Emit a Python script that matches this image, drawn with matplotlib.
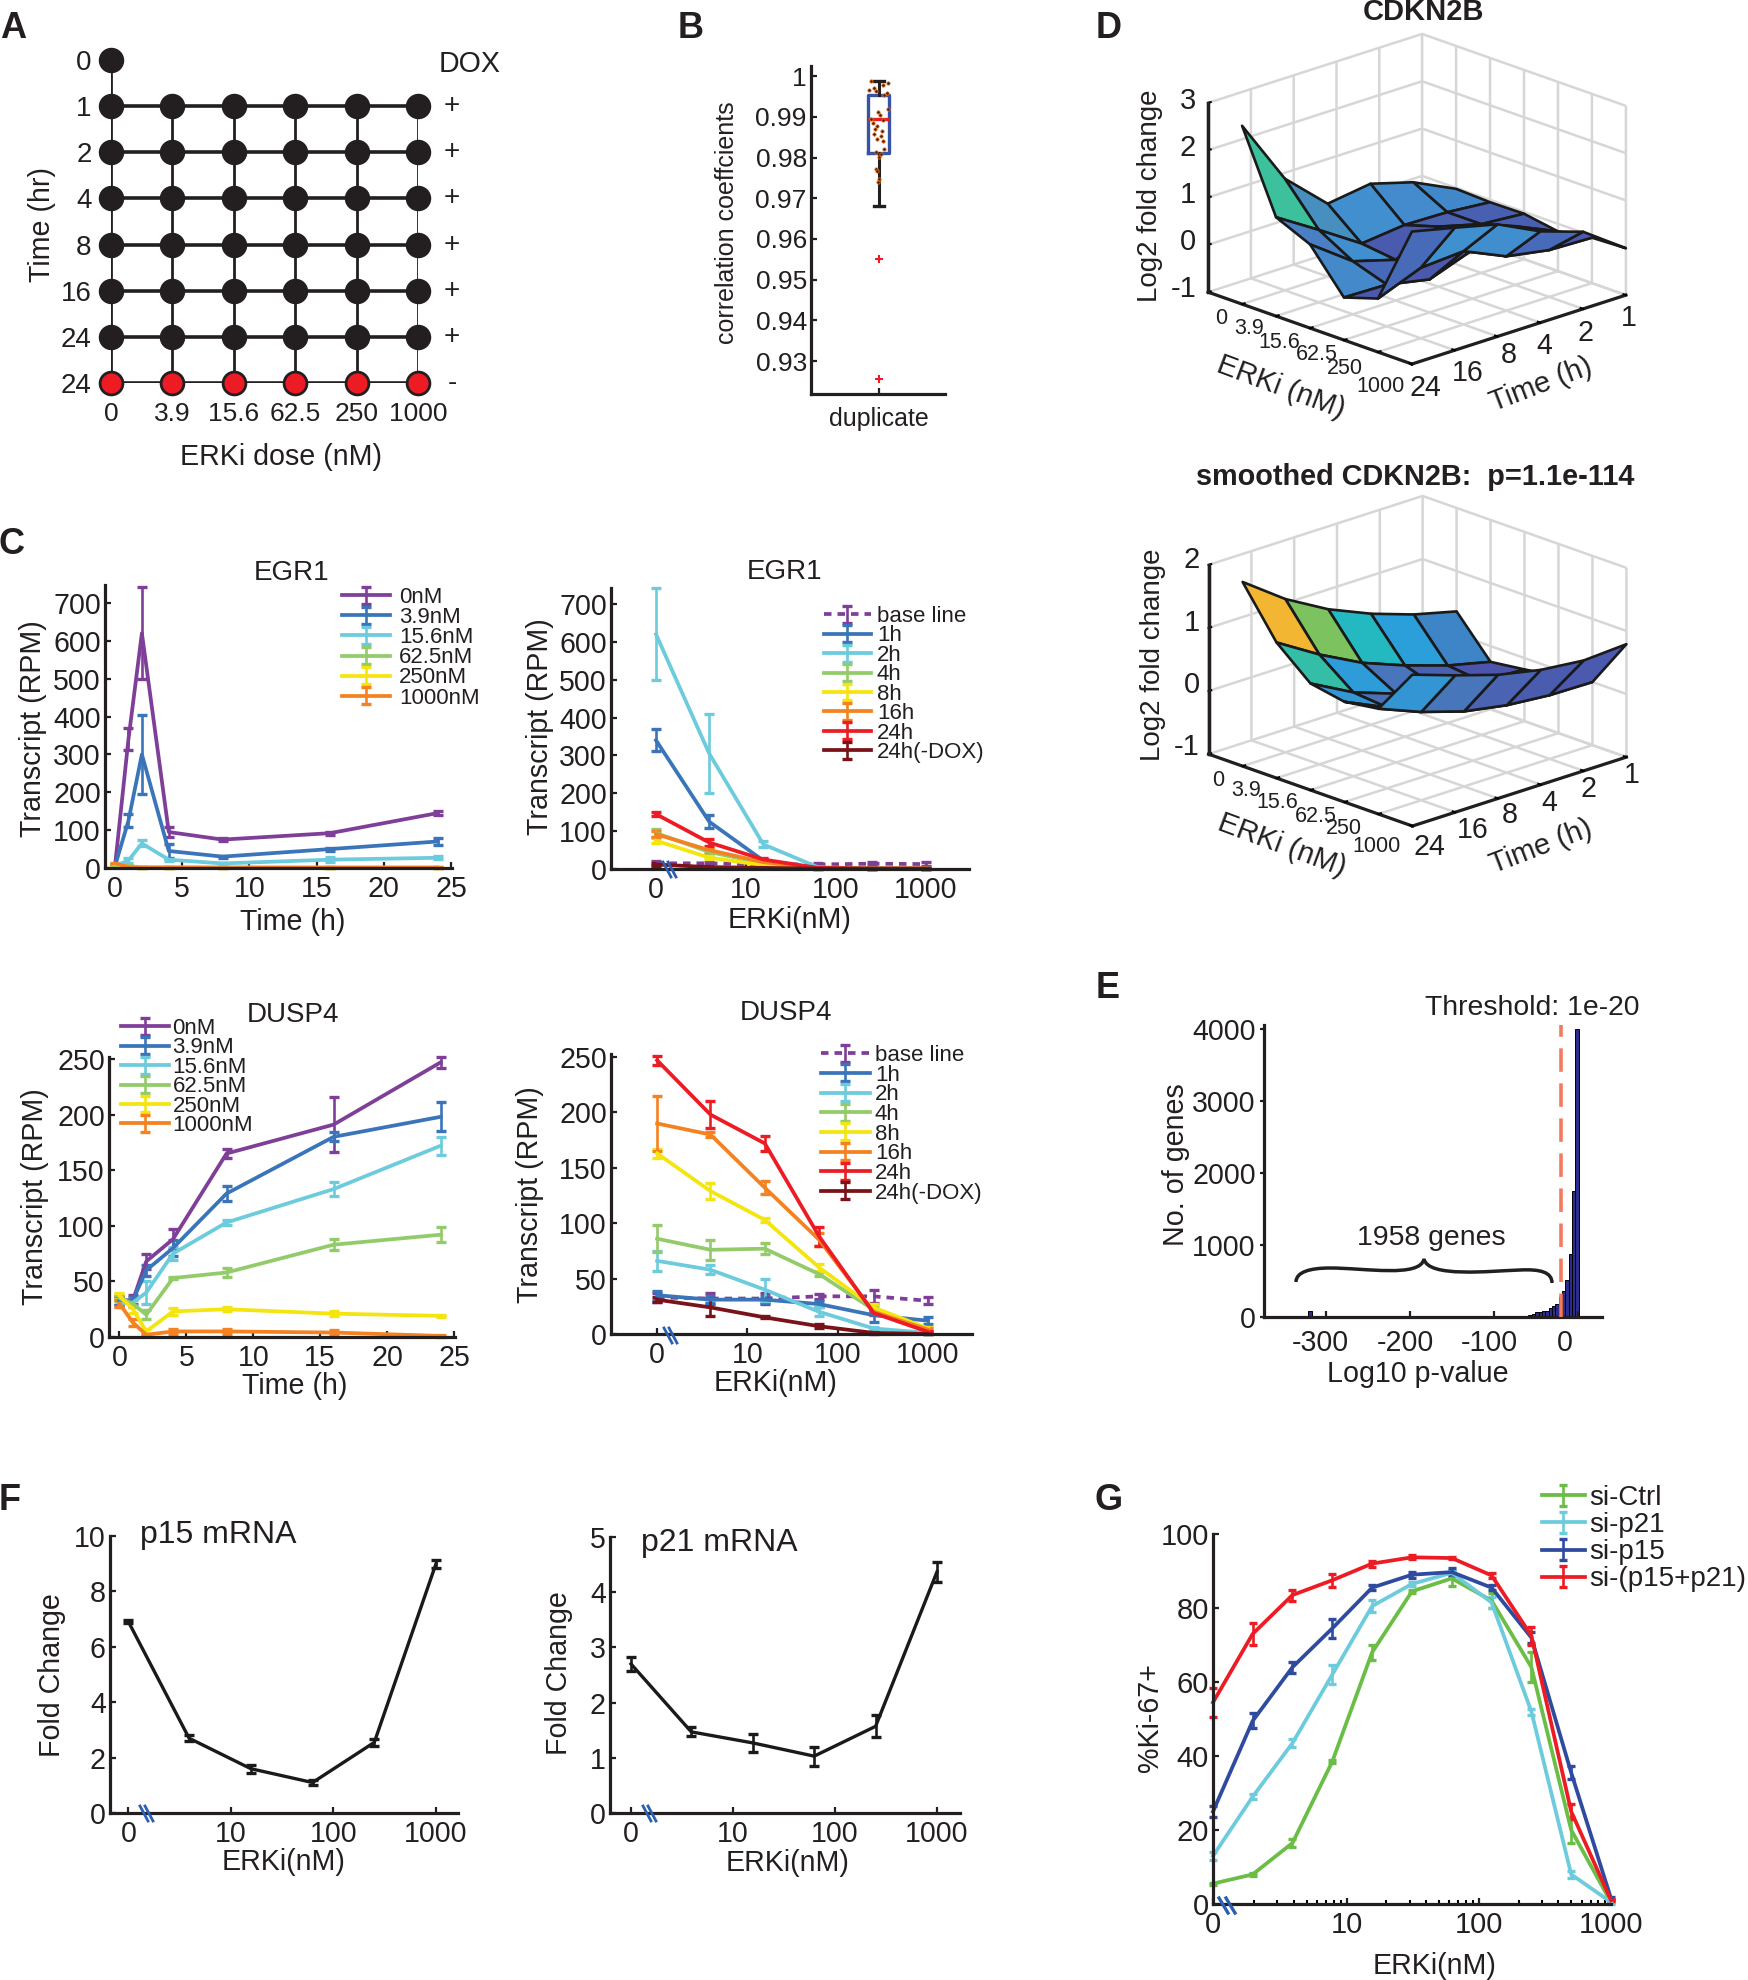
import numpy as np
import matplotlib
matplotlib.use('Agg')
import matplotlib.pyplot as plt
from matplotlib.colors import LinearSegmentedColormap, Normalize
from matplotlib.container import ErrorbarContainer
from matplotlib.legend_handler import HandlerErrorbar
from matplotlib.lines import Line2D
from matplotlib.patches import PathPatch
from matplotlib.path import Path
from matplotlib.ticker import LogLocator, NullFormatter
from matplotlib.transforms import ScaledTranslation

plt.rcParams['font.family'] = ['Liberation Sans', 'DejaVu Sans']
INK = '#231f20'
PURPLE, BLUE, CYAN, GREEN, YELLOW, ORANGE, RED, DRED = ('#7f3f98', '#3a75ba', '#6ccbdc', '#93cb6a',
                                                       '#f4e50f', '#f58220', '#ed1c24', '#7a1319')

# ---------- data ----------
GRID_TIMES = ['0', '1', '2', '4', '8', '16', '24', '24']
GRID_DOSES = ['0', '3.9', '15.6', '62.5', '250', '1000']
GRID_DOX = ['+', '+', '+', '+', '+', '+', '-']

DUP_Q1, DUP_MED, DUP_Q3, DUP_LO, DUP_HI = 0.981, 0.9895, 0.9953, 0.968, 0.9988
DUP_FLIERS = [0.955, 0.9255]
DUP_POINTS = [0.9988, 0.9982, 0.9978, 0.9972, 0.9967, 0.9964, 0.9959, 0.9953, 0.9920, 0.9912, 0.9904, 0.9895,
              0.9892, 0.9884, 0.9877, 0.9871, 0.9866, 0.9859, 0.9852, 0.9846, 0.9840, 0.9822, 0.9814, 0.9808,
              0.9802, 0.9773, 0.9767, 0.9748, 0.9740]
DUP_JITTER = [0.447, 0.574, 0.537, 0.470, 0.432, 0.485, 0.567, 0.544, 0.574, 0.500, 0.515, 0.447,
              0.537, 0.462, 0.492, 0.477, 0.530, 0.470, 0.522, 0.492, 0.537, 0.544, 0.485, 0.522,
              0.507, 0.485, 0.492, 0.507, 0.500]

TIMES = [0, 1, 2, 4, 8, 16, 24]
DOSES = [1, 3.9, 15.6, 62.5, 250, 1000]   # "0" sits one decade below 10
DOSE_NAMES = ['0nM', '3.9nM', '15.6nM', '62.5nM', '250nM', '1000nM']
TIME_NAMES = ['base line', '1h', '2h', '4h', '8h', '16h', '24h', '24h(-DOX)']

EGR1_T_0 = [5, 340, 620, 95, 75, 92, 145]
EGR1_T_0_E = [3, 29, 122, 12, 3, 4, 5]
EGR1_T_39 = [5, 125, 300, 45, 30, 50, 70]
EGR1_T_39_E = [2, 18, 104, 18, 3, 4, 8]
EGR1_T_156 = [5, 20, 65, 22, 12, 22, 27]
EGR1_T_156_E = [2, 7, 8, 3, 2, 6, 4]
EGR1_T_625 = [10, 5, 2, 2, 1, 1, 1]
EGR1_T_250 = [10, 3, 1, 1, 1, 1, 1]
EGR1_T_1000 = [12, 3, 1, 1, 1, 1, 1]

EGR1_D_BASE = [15, 15, 12, 12, 14, 13]
EGR1_D_1 = [340, 125, 22, 3, 1, 1]
EGR1_D_1_E = [29, 18, 4, 1, 0.5, 0.5]
EGR1_D_2 = [620, 305, 65, 5, 1, 1]
EGR1_D_2_E = [122, 104, 8, 1, 0.5, 0.5]
EGR1_D_4 = [95, 45, 15, 2, 1, 1]
EGR1_D_8 = [75, 30, 10, 1, 1, 1]
EGR1_D_16 = [92, 50, 18, 2, 1, 1]
EGR1_D_24 = [145, 70, 25, 3, 1, 1]
EGR1_D_NODOX = [12, 5, 3, 1, 1, 1]

DUSP_T_0 = [33, 33, 68, 88, 165, 191, 247]
DUSP_T_0_E = [4, 5, 7, 9, 4, 25, 5]
DUSP_T_39 = [32, 33, 60, 80, 129, 180, 198]
DUSP_T_39_E = [3, 3, 5, 7, 7, 4, 13]
DUSP_T_156 = [30, 31, 40, 75, 103, 133, 172]
DUSP_T_156_E = [3, 3, 10, 6, 2, 6, 8]
DUSP_T_625 = [35, 30, 20, 53, 58, 83, 92]
DUSP_T_625_E = [3, 3, 4, 1, 4, 5, 7]
DUSP_T_250 = [37, 25, 5, 23, 25, 21, 19]
DUSP_T_250_E = [3, 3, 2, 3, 2, 2, 1]
DUSP_T_1000 = [30, 13, 2, 5, 5, 4, 1]
DUSP_T_1000_E = [3, 3, 1, 2, 2, 2, 1]

DUSP_D_BASE = [33, 32, 32, 34, 34, 30]
DUSP_D_BASE_E = [4, 5, 5, 2, 6, 3]
DUSP_D_1 = [35, 31, 31, 27, 17, 12]
DUSP_D_1_E = [4, 3, 3, 3, 6, 3]
DUSP_D_2 = [66, 58, 40, 20, 5, 1]
DUSP_D_2_E = [9, 4, 10, 4, 1, 1]
DUSP_D_4 = [86, 76, 77, 54, 22, 3]
DUSP_D_4_E = [12, 9, 5, 2, 2, 1]
DUSP_D_8 = [163, 129, 103, 60, 24, 5]
DUSP_D_8_E = [4, 7, 2, 3, 3, 1]
DUSP_D_16 = [190, 180, 132, 85, 20, 4]
DUSP_D_16_E = [25, 2, 6, 6, 2, 1]
DUSP_D_24 = [247, 198, 172, 88, 19, 2]
DUSP_D_24_E = [4, 12, 7, 9, 2, 1]
DUSP_D_NODOX = [31, 24, 15, 7, 1, 0]
DUSP_D_NODOX_E = [2, 8, 1, 2, 1, 0]

# rows: dose index; columns: 24h, 16h, 8h, 4h, 2h, 1h
CDKN2B_RAW = np.array([
    [2.77, 1.36, 0.54, 0.67, 0.41, -0.02],
    [1.09, 0.53, -0.05, 0.05, 0.03, -0.05],
    [0.77, 0.12, -0.14, 0.27, 0.03, -0.04],
    [-0.10, -0.12, -0.30, 0.03, 0.24, -0.16],
    [0.13, 0.49, 0.55, 0.15, -0.01, -0.04],
    [1.80, 1.59, 1.37, 0.93, 0.63, -0.01]])
CDKN2B_SMOOTH = np.array([
    [1.92, 1.43, 1.05, 0.76, 0.53, 0.36],
    [1.15, 0.74, 0.39, 0.13, -0.09, -0.25],
    [0.69, 0.33, 0.09, -0.05, -0.15, -0.18],
    [0.59, 0.28, 0.05, -0.07, -0.12, -0.10],
    [0.67, 0.40, 0.19, 0.07, 0.01, 0.00],
    [1.40, 1.17, 0.96, 0.82, 0.75, 0.79]])
SURF_TIMES = ['24', '16', '8', '4', '2', '1']

HIST_X = [-319, -61, -57, -53, -49, -45, -41, -37, -33, -29, -25, -21, -17, -13, -9, -5, -1]
HIST_N = [80, 15, 30, 40, 70, 75, 80, 85, 120, 150, 180, 280, 360, 520, 880, 1750, 4000]
THRESHOLD = -20

P15 = [6.9, 2.7, 1.6, 1.1, 2.55, 9.0]
P15_E = [0.05, 0.1, 0.15, 0.1, 0.12, 0.15]
P21 = [2.7, 1.47, 1.27, 1.03, 1.57, 4.37]
P21_E = [0.12, 0.08, 0.17, 0.17, 0.2, 0.18]

KI_DOSE = [0.977, 1.95, 3.9, 7.8, 15.6, 31.25, 62.5, 125, 250, 500, 1000]
KI_CTRL = [5.5, 8, 16.5, 38.5, 68, 84.5, 88, 82, 64, 20, 0.5]
KI_CTRL_E = [0.3, 0.5, 1, 0.5, 2, 0.5, 2, 2, 4, 3.5, 0.3]
KI_P21 = [13, 29, 43.5, 62, 80.5, 86.5, 89.5, 81.5, 52, 8, 0.5]
KI_P21_E = [1, 0.7, 1, 2.5, 1.7, 0.5, 0.7, 1.5, 0.8, 1, 0.5]
KI_P15 = [25, 49.5, 64, 74.5, 85.5, 89, 89.7, 85.5, 72, 35.5, 1.5]
KI_P15_E = [1.5, 2, 1.5, 2.5, 0.7, 0.8, 1, 0.7, 1.5, 1.7, 0.3]
KI_BOTH = [54.5, 73, 83.5, 87.5, 92, 93.7, 93.5, 88.8, 72.5, 25, 1]
KI_BOTH_E = [4, 3, 1.5, 1.8, 0.8, 0.5, 0.3, 0.7, 2.5, 2, 0.3]

# ---------- helpers ----------
W, H = 1749, 1980
fig = plt.figure(figsize=(W / 100, H / 100), dpi=100, facecolor='white')


def axpx(l, t, r, b):
    return fig.add_axes([l / W, 1 - b / H, (r - l) / W, (b - t) / H])


def txt(x, y, s, size=20, **kw):
    kw.setdefault('ha', 'center')
    kw.setdefault('va', 'center')
    return fig.text(x / W, 1 - y / H, s, fontsize=size, color=INK, **kw)


def labels(ax, xlab, xpos, ylab, ypos, size=20.6):
    if xlab:
        ax.set_xlabel(xlab, fontsize=size, color=INK, va='center')
        ax.xaxis.set_label_coords(xpos[0] / W, 1 - xpos[1] / H, transform=fig.transFigure)
    if ylab:
        ax.set_ylabel(ylab, fontsize=size, color=INK, va='center')
        ax.yaxis.set_label_coords(ypos[0] / W, 1 - ypos[1] / H, transform=fig.transFigure)


def style(ax, size=20.6, lw=2.3):
    for s in ('top', 'right'):
        ax.spines[s].set_visible(False)
    for s in ('left', 'bottom'):
        ax.spines[s].set_linewidth(lw)
        ax.spines[s].set_color(INK)
    ax.tick_params(direction='in', length=4.5, width=1.6, labelsize=size, colors=INK, pad=3)
    ax.tick_params(axis='x', pad=5)
    ax.patch.set_alpha(0)


def logx(ax, right_tick=1000):
    ax.set_xscale('log')
    ax.set_xticks([1, 10, 100, 1000], ['0', '10', '100', '1000'])
    ax.xaxis.set_minor_locator(plt.NullLocator())


def brk(x, y, dx=8, dy=15, gap=5, lw=2):
    for k in (0, gap):
        fig.add_artist(Line2D([(x + k) / W, (x + k + dx) / W], [1 - y / H, 1 - (y + dy) / H],
                              color='#2b5fb0', lw=lw, transform=fig.transFigure))


def ebar(ax, x, y, e, c, label=None, ls='-', lw=2.7, z=2, cap=3.4):
    return ax.errorbar(x, y, yerr=e, color=c, ls=ls, lw=lw, elinewidth=1.9, capsize=cap, capthick=2.4,
                       label=label, zorder=z, clip_on=False)


def legend(ax, hs, x0, top, hlen, tx, fs=16, spacing=-0.05):
    em = fs * 100 / 72
    return ax.legend(handles=hs, loc='upper left', bbox_to_anchor=(x0 / W, 1 - top / H),
                     bbox_transform=fig.transFigure, frameon=False, fontsize=fs, borderpad=0, borderaxespad=0,
                     handlelength=hlen / em, handletextpad=(tx - x0 - hlen) / em, labelspacing=spacing,
                     numpoints=1, labelcolor=INK,
                     handler_map={ErrorbarContainer: HandlerErrorbar(xerr_size=0.38)})


for s, x, y in [('A', 13, 28), ('B', 691, 28), ('C', 12, 544), ('D', 1109, 28), ('E', 1108, 989),
                ('F', 10, 1500), ('G', 1109, 1500)]:
    txt(x, y, s, size=26, fontweight='bold')

# ---------- A ----------
ax = axpx(111, 60, 418, 383)
gx = np.arange(len(GRID_DOSES))
gy = np.arange(len(GRID_TIMES))
X, Y = np.meshgrid(gx, gy[1:])
ax.plot(X, Y, color=INK, lw=2.0, zorder=1)
ax.plot(X.T, Y.T, color=INK, lw=2.6, zorder=1)
ax.plot([0, 0], [0, 1], color=INK, lw=2.0, zorder=1)
ax.scatter([0], [0], s=300, color=INK, zorder=2, clip_on=False)
ax.scatter(X[:-1].ravel(), Y[:-1].ravel(), s=300, color=INK, zorder=2, clip_on=False)
ax.scatter(X[-1], Y[-1], s=270, facecolor=RED, edgecolor=INK, lw=2, zorder=2, clip_on=False)
ax.set_xlim(0, 5)
ax.set_ylim(7, 0)
for s in ax.spines.values():
    s.set_visible(False)
ax.set_xticks(gx, GRID_DOSES)
ax.set_yticks(gy, GRID_TIMES)
ax.tick_params(length=0, labelsize=20, colors=INK)
ax.tick_params(axis='x', labelsize=19, pad=14)
ax.tick_params(axis='y', pad=14)
labels(ax, 'ERKi dose (nM)', (281, 457), 'Time (hr)', (42, 224))
txt(439, 64, 'DOX', ha='left', size=20.6)
for row, sign in zip(gy[1:], GRID_DOX):
    ax.annotate(sign, (452 / W, row), xycoords=('figure fraction', 'data'),
                ha='center', va='center', fontsize=20, color=INK)

# ---------- B ----------
ax = axpx(811, 66, 945, 394)
stats = [dict(med=DUP_MED, q1=DUP_Q1, q3=DUP_Q3, whislo=DUP_LO, whishi=DUP_HI, fliers=DUP_FLIERS)]
ax.bxp(stats, positions=[0.507], widths=0.157, capwidths=0.08, manage_ticks=False,
       boxprops=dict(color='#3953a4', lw=2.4), medianprops=dict(color=RED, lw=2.4),
       whiskerprops=dict(color=INK, lw=2.2), capprops=dict(color=INK, lw=2.4),
       flierprops=dict(marker='+', markeredgecolor=RED, markersize=6, markeredgewidth=1.5))
ax.scatter(DUP_JITTER, DUP_POINTS, s=6, color='#4a2412', edgecolor='#f47920', lw=0.5, zorder=5)
ax.set_xlim(0, 1)
ax.set_ylim(0.9219, 1.0025)
style(ax, size=19)
ax.set_xticks([0.507], ['duplicate'])
ax.tick_params(axis='x', labelsize=18, pad=9.5)
ax.set_yticks([0.93, 0.94, 0.95, 0.96, 0.97, 0.98, 0.99, 1], ['0.93', '0.94', '0.95', '0.96', '0.97', '0.98', '0.99', '1'])
labels(ax, None, None, 'correlation coeffcients', (727, 223), size=18)

# ---------- C ----------
ax = axpx(105, 585, 452, 868)
ax.set_ylim(0, 283 / 0.3786)
ax.set_xlim(-10 / 13.44, (452 - 115) / 13.44)
hs = [ebar(ax, TIMES, EGR1_T_0, EGR1_T_0_E, PURPLE, DOSE_NAMES[0]),
      ebar(ax, TIMES, EGR1_T_39, EGR1_T_39_E, BLUE, DOSE_NAMES[1]),
      ebar(ax, TIMES, EGR1_T_156, EGR1_T_156_E, CYAN, DOSE_NAMES[2]),
      ebar(ax, TIMES, EGR1_T_625, [1] * 7, GREEN, DOSE_NAMES[3]),
      ebar(ax, TIMES, EGR1_T_250, [1] * 7, YELLOW, DOSE_NAMES[4]),
      ebar(ax, TIMES, EGR1_T_1000, [1] * 7, ORANGE, DOSE_NAMES[5])]
style(ax)
ax.set_xticks([0, 5, 10, 15, 20, 25])
ax.set_yticks(range(0, 701, 100))
labels(ax, 'Time (h)', (293, 922), 'Transcript (RPM)', (33, 729))
legend(ax, hs, 342, 587, 48, 399, spacing=-0.04)
txt(292, 573, 'EGR1')

ax = axpx(611, 588, 969, 869)
ax.set_xlim(10 ** (-45 / 90), 10 ** (3 + 43 / 90))
ax.set_ylim(0, 281 / 0.3786)
logx(ax)
hs = [ebar(ax, DOSES, EGR1_D_BASE, [5, 4, 3, 3, 4, 5], PURPLE, TIME_NAMES[0], ls=(0, (2, 1.6))),
      ebar(ax, DOSES, EGR1_D_1, EGR1_D_1_E, BLUE, TIME_NAMES[1]),
      ebar(ax, DOSES, EGR1_D_2, EGR1_D_2_E, CYAN, TIME_NAMES[2]),
      ebar(ax, DOSES, EGR1_D_4, [10, 8, 3, 1, 0.5, 0.5], GREEN, TIME_NAMES[3]),
      ebar(ax, DOSES, EGR1_D_8, [6, 4, 2, 1, 0.5, 0.5], YELLOW, TIME_NAMES[4]),
      ebar(ax, DOSES, EGR1_D_16, [8, 6, 3, 1, 0.5, 0.5], ORANGE, TIME_NAMES[5]),
      ebar(ax, DOSES, EGR1_D_24, [5, 10, 5, 1, 0.5, 0.5], RED, TIME_NAMES[6]),
      ebar(ax, DOSES, EGR1_D_NODOX, [3, 2, 1, 0.5, 0.5, 0.5], DRED, TIME_NAMES[7])]
style(ax)
ax.set_yticks(range(0, 701, 100))
labels(ax, 'ERKi(nM)', (790, 920), 'Transcript (RPM)', (540, 727))
legend(ax, hs, 824, 606, 47, 877, spacing=-0.07)
brk(663, 862)
txt(785, 572, 'EGR1')

ax = axpx(109, 1057, 455, 1337)
ax.set_ylim(0, 280 / 1.112)
ax.set_xlim(-10.5 / 13.38, (455 - 119.5) / 13.38)
hs = [ebar(ax, TIMES, DUSP_T_0, DUSP_T_0_E, PURPLE, DOSE_NAMES[0]),
      ebar(ax, TIMES, DUSP_T_39, DUSP_T_39_E, BLUE, DOSE_NAMES[1]),
      ebar(ax, TIMES, DUSP_T_156, DUSP_T_156_E, CYAN, DOSE_NAMES[2]),
      ebar(ax, TIMES, DUSP_T_625, DUSP_T_625_E, GREEN, DOSE_NAMES[3]),
      ebar(ax, TIMES, DUSP_T_250, DUSP_T_250_E, YELLOW, DOSE_NAMES[4]),
      ebar(ax, TIMES, DUSP_T_1000, DUSP_T_1000_E, ORANGE, DOSE_NAMES[5])]
style(ax)
ax.set_xticks([0, 5, 10, 15, 20, 25])
ax.set_yticks(range(0, 251, 50))
labels(ax, 'Time (h)', (295, 1386), 'Transcript (RPM)', (35, 1197))
legend(ax, hs, 121, 1018, 48, 172.5, spacing=-0.07)
txt(293, 1015, 'DUSP4')

ax = axpx(611, 1054, 972, 1334)
ax.set_xlim(10 ** (-46 / 90), 10 ** (3 + 44 / 90))
ax.set_ylim(0, 280 / 1.108)
logx(ax)
hs = [ebar(ax, DOSES, DUSP_D_BASE, DUSP_D_BASE_E, PURPLE, TIME_NAMES[0], ls=(0, (2, 1.6))),
      ebar(ax, DOSES, DUSP_D_1, DUSP_D_1_E, BLUE, TIME_NAMES[1]),
      ebar(ax, DOSES, DUSP_D_2, DUSP_D_2_E, CYAN, TIME_NAMES[2]),
      ebar(ax, DOSES, DUSP_D_4, DUSP_D_4_E, GREEN, TIME_NAMES[3]),
      ebar(ax, DOSES, DUSP_D_8, DUSP_D_8_E, YELLOW, TIME_NAMES[4]),
      ebar(ax, DOSES, DUSP_D_16, DUSP_D_16_E, ORANGE, TIME_NAMES[5]),
      ebar(ax, DOSES, DUSP_D_24, DUSP_D_24_E, RED, TIME_NAMES[6]),
      ebar(ax, DOSES, DUSP_D_NODOX, DUSP_D_NODOX_E, DRED, TIME_NAMES[7])]
style(ax)
ax.set_yticks(range(0, 251, 50))
labels(ax, 'ERKi(nM)', (776, 1383), 'Transcript (RPM)', (530, 1195))
legend(ax, hs, 821, 1045, 49, 875, spacing=-0.06)
brk(664, 1328)
txt(786, 1013, 'DUSP4')

# ---------- D ----------
raw_cmap = LinearSegmentedColormap.from_list('raw', [
    (0.0, '#4a4ea6'), (0.15, '#4a5bb0'), (0.3, '#4090cf'), (0.5, '#4a7fc4'), (0.75, '#3ab8b0'), (1.0, '#3dc09c')])
smooth_cmap = LinearSegmentedColormap.from_list('smooth', [
    (0.0, '#4d4faa'), (0.15, '#4a5cb0'), (0.28, '#4a72b8'), (0.45, '#2f9bd8'), (0.55, '#12b3dc'),
    (0.66, '#39bfa0'), (0.78, '#7ec35e'), (1.0, '#f2b632')])


def surface(Z, zlim, zticks, cmap, vmin, vmax, center):
    asp = np.array([295.0, 296.0, 201.0])
    scale = 1.8294640721620434 * 25 / 24 / np.linalg.norm(asp)
    S = 1.85 / scale
    ox = center[0] - 0.5135 * S
    oy = center[1] + 0.5135 * S
    ax = fig.add_axes([ox / W, 1 - oy / H, S / W, S / H], projection='3d', proj_type='ortho')
    ax.set_box_aspect(asp)
    ax.view_init(elev=19.7, azim=-43.7)
    ax.patch.set_alpha(0)
    xs, ys = np.meshgrid(np.arange(6), np.arange(6), indexing='ij')
    fc = cmap(Normalize(vmin, vmax)(Z))
    ax.plot_surface(xs, ys, Z, facecolors=fc, rstride=1, cstride=1, shade=False,
                    edgecolor='#1a1a1a', linewidth=1.9, antialiased=True)
    ax.plot([-1, -1], [0, 0], list(zlim), color=INK, lw=2.4)
    ax.set_xlim(-1, 5)
    ax.set_ylim(0, 5)
    ax.set_zlim(*zlim)
    ax.set_xticks(range(6), [''] * 6)
    ax.set_yticks(range(6), [''] * 6)
    ax.set_zticks(zticks, [''] * len(zticks))
    ax.zaxis.set_ticks_position('lower')
    for a in (ax.xaxis, ax.yaxis, ax.zaxis):
        a.set_pane_color((1, 1, 1, 0))
        a.pane.set_edgecolor('#d6d6d6')
        a._axinfo['grid'].update(color='#d6d6d6', linewidth=1.8)
        a._axinfo['tick'].update(inward_factor=0.0, outward_factor=0.15, linewidth={True: 1.5, False: 1.0})
        a.line.set_linewidth(2.3)
        a.line.set_color(INK)
    ax.set_zlabel('')
    return ax


surface(CDKN2B_RAW, (-1, 3), [-1, 0, 1, 2, 3], raw_cmap, -0.5, 2.77, (1417, 199))
surface(CDKN2B_SMOOTH, (-1, 2), [-1, 0, 1, 2], smooth_cmap, -0.25, 1.92, (1417.5, 661))
for s, x, y in zip(GRID_DOSES, [1221, 1249, 1279, 1317, 1345, 1381], [319, 328, 342, 355, 368, 387]):
    txt(x, y, s, size=15.5)
for s, x, y in zip(GRID_DOSES, [1218, 1246, 1277, 1316, 1344, 1377], [780, 790, 802, 817, 828, 847]):
    txt(x, y, s, size=15.5)
for s, x, y in zip(SURF_TIMES, [1425, 1468, 1509, 1544, 1586, 1629], [388, 373, 355, 346, 333, 318]):
    txt(x, y, s, size=20.6)
for s, x, y in zip(SURF_TIMES, [1429.5, 1473, 1509.5, 1549, 1588.5, 1632], [847, 830, 815, 803, 789, 775]):
    txt(x, y, s, size=20.6)
for s, y in zip(['3', '2', '1', '0', '-1'], [101, 148, 195, 242, 289]):
    txt(1196, y, s, size=21, ha='right')
for s, y in zip(['2', '1', '0', '-1'], [560, 623, 685, 747]):
    txt(1200, y, s, size=21, ha='right')
txt(1150, 196, 'Log2 fold change', size=20, rotation=90)
txt(1153, 655, 'Log2 fold change', size=20, rotation=90)
txt(1281, 387, 'ERKi (nM)', size=21, rotation=-20.4)
txt(1541.5, 385, 'Time (h)', size=21, rotation=21)
txt(1282, 845, 'ERKi (nM)', size=21, rotation=-20.4)
txt(1541.5, 847, 'Time (h)', size=21, rotation=21)
txt(1424, 12, 'CDKN2B', size=21, fontweight='bold')
txt(1415, 477, 'smoothed CDKN2B:  p=1.1e-114', size=20.8, fontweight='bold')

# ---------- E ----------
ax = axpx(1264, 1025, 1602, 1317)
ax.set_xlim((1264 - 1578) / 0.84, (1602 - 1578) / 0.84)
ax.set_ylim(0, 4000 * 292 / 288)
ax.bar(HIST_X, HIST_N, width=4, color='#2b2c8c', edgecolor='black', lw=0.7, clip_on=False)
ax.plot([THRESHOLD, THRESHOLD], [0, 4000 * 292 / 288], color='#f47a60', lw=2.6, ls=(0, (6.5, 3.2)), zorder=4)
style(ax)
ax.set_xticks([-300, -200, -100, 0], ['-300', '-200', '-100', '0'])
ax.set_yticks(range(0, 4001, 1000))
ax.tick_params(axis='x', pad=8.5)
zero = ax.get_xticklabels()[-1]
zero.set_transform(zero.get_transform() + ScaledTranslation(-13 / 100, 0, fig.dpi_scale_trans))
for t, off in zip(ax.get_xticklabels()[:3], (-6, -5, -5)):
    t.set_transform(t.get_transform() + ScaledTranslation(off / 100, 0, fig.dpi_scale_trans))
yzero = ax.get_yticklabels()[0]
yzero.set_transform(yzero.get_transform() + ScaledTranslation(0, 5 / 100, fig.dpi_scale_trans))
ax.tick_params(axis='y', direction='out', length=3)
labels(ax, 'Log10 p-value', (1418, 1374), 'No. of genes', (1176, 1165))
txt(1532, 1008, 'Threshold: 1e-20', size=20.4)
txt(1431, 1238, '1958 genes', size=20.4)
brace = [(1296, 1282), (1296, 1272), (1310, 1268), (1330, 1268), (1365, 1268), (1420, 1278), (1424, 1259),
         (1428, 1278), (1490, 1271), (1520, 1270), (1540, 1269), (1552, 1272), (1552, 1283)]
codes = [Path.MOVETO] + [Path.CURVE4] * 12
fig.add_artist(PathPatch(Path([(x / W, 1 - y / H) for x, y in brace], codes), fc='none', ec=INK, lw=2.5,
                         transform=fig.transFigure))

# ---------- F ----------
ax = axpx(110, 1536, 458, 1813)
ax.set_xlim(10 ** (-18.5 / 102.5), 10 ** (3 + 22 / 102.5))
ax.set_ylim(0, 10)
logx(ax)
ebar(ax, DOSES, P15, P15_E, '#1a1a1a', lw=2.4, cap=3.4)
style(ax)
ax.set_yticks(range(0, 11, 2))
labels(ax, 'ERKi(nM)', (284, 1862), 'Fold Change', (52, 1675))
txt(140, 1535, 'p15 mRNA', size=23, ha='left')
brk(140, 1806)

ax = axpx(610, 1537, 960, 1813)
ax.set_xlim(10 ** (-21 / 102), 10 ** (3 + 23 / 102))
ax.set_ylim(0, 5)
logx(ax)
ebar(ax, DOSES, P21, P21_E, '#1a1a1a', lw=2.4, cap=3.4)
style(ax)
ax.set_yticks(range(0, 6))
labels(ax, 'ERKi(nM)', (788, 1863), 'Fold Change', (559, 1673))
txt(641, 1543, 'p21 mRNA', size=23, ha='left')
brk(643, 1806)

# ---------- G ----------
ax = axpx(1213, 1534, 1611, 1904)
ax.set_xscale('log')
ax.set_xlim(0.977, 1000)
ax.set_ylim(0, 100)
hs = [ebar(ax, KI_DOSE, KI_CTRL, KI_CTRL_E, '#6abd45', 'si-Ctrl', cap=3),
      ebar(ax, KI_DOSE, KI_P21, KI_P21_E, CYAN, 'si-p21', cap=3),
      ebar(ax, KI_DOSE, KI_P15, KI_P15_E, '#2f4b9f', 'si-p15', cap=3),
      ebar(ax, KI_DOSE, KI_BOTH, KI_BOTH_E, RED, 'si-(p15+p21)', cap=3)]
style(ax, size=21)
ax.set_xticks([0.977, 10, 100, 1000], ['0', '10', '100', '1000'])
ax.xaxis.set_minor_locator(LogLocator(base=10, subs=range(2, 10), numticks=20))
ax.xaxis.set_minor_formatter(NullFormatter())
ax.tick_params(axis='x', which='minor', direction='in', length=3, width=1.5)
ax.set_yticks(range(0, 101, 20))
labels(ax, 'ERKi(nM)', (1435, 1966), '%Ki-67+', (1150, 1718))
legend(ax, hs, 1542, 1485, 43, 1589, fs=20, spacing=0.04)
brk(1219, 1898, dx=9, dy=15, gap=7, lw=2.4)

fig.savefig('out.png', dpi=100)
